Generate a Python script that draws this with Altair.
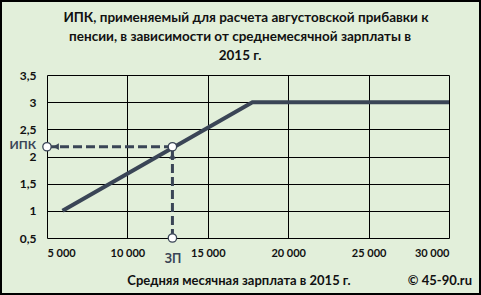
import altair as alt
import pandas as pd

# --- data ---
salary = [5965, 17775, 30000]
ipk = [1.0, 3.0, 3.0]
zp_salary = 12800
zp_ipk = 2.18
x_min, x_max = 5000, 30000
y_min, y_max = 0.5, 3.5
x_ticks = [5000, 10000, 15000, 20000, 25000, 30000]
y_ticks = [0.5, 1.0, 1.5, 2.0, 2.5, 3.0, 3.5]
title_lines = ["ИПК, применяемый для расчета августовской прибавки к",
               "пенсии, в зависимости от среднемесячной зарплаты в",
               "2015  г."]
x_title = "Средняя месячная зарплата в 2015 г."
copyright_text = "© 45-90.ru"

LINE = "#3A4556"
BG = "#E2EFDA"
FONT = "Lato"

W, H = 402, 163
PL, PT, PR, PB = 47, 75, 32, 57

xs = alt.Scale(domain=[x_min, x_max], nice=False, zero=False)
ys = alt.Scale(domain=[y_min, y_max], nice=False, zero=False)

xaxis = alt.Axis(values=x_ticks, grid=True, domain=False, ticks=False, title=None,
                 format=",d", labelOverlap=False,
                 labelPadding=9, labelFontSize=11, labelFontWeight="bold",
                 labelColor="#111", labelFont=FONT, gridColor="black", gridWidth=1)
yaxis = alt.Axis(values=y_ticks, grid=True, domain=False, ticks=False, title=None,
                 format="~g", labelOverlap=False,
                 labelPadding=11, labelFontSize=12, labelFontWeight="bold",
                 labelColor="#111", labelFont=FONT, gridColor="black", gridWidth=1)

def enc(ch):
    return ch.encode(x=alt.X("salary:Q", scale=xs, axis=xaxis),
                     y=alt.Y("ipk:Q", scale=ys, axis=yaxis))

main_df = pd.DataFrame({"salary": salary, "ipk": ipk})
main = enc(alt.Chart(main_df).mark_line(color=LINE, strokeWidth=4))

vert_df = pd.DataFrame({"salary": [zp_salary, zp_salary], "ipk": [y_min, zp_ipk]})
vert = enc(alt.Chart(vert_df).mark_line(color=LINE, strokeWidth=3, strokeDash=[9, 4]))

hor_df = pd.DataFrame({"salary": [x_min, zp_salary], "ipk": [zp_ipk, zp_ipk]})
hor = enc(alt.Chart(hor_df).mark_line(color=LINE, strokeWidth=3, strokeDash=[9, 4]))

arr_up = enc(alt.Chart(pd.DataFrame({"salary": [zp_salary], "ipk": [zp_ipk]})).mark_point(
    shape="triangle-up", filled=True, color=LINE, opacity=1, size=45, yOffset=9))

arr_left = enc(alt.Chart(pd.DataFrame({"salary": [x_min], "ipk": [zp_ipk]})).mark_point(
    shape="triangle-left", filled=True, color=LINE, opacity=1, size=45, xOffset=9))

circ_df = pd.DataFrame({"salary": [x_min, zp_salary, zp_salary],
                        "ipk": [zp_ipk, zp_ipk, y_min]})
circles = enc(alt.Chart(circ_df).mark_point(
    shape="circle", filled=True, fill="white", stroke=LINE, strokeWidth=1.3,
    opacity=1, size=70))

def label(txt, x, y, size=12, color="#111", align="center", weight="bold"):
    return alt.Chart(pd.DataFrame({"t": [txt]})).mark_text(
        font=FONT, fontSize=size, fontWeight=weight, color=color, align=align,
        baseline="alphabetic").encode(
        text="t:N", x=alt.value(x), y=alt.value(y))

texts = [
    label(title_lines[0], 246 - PL, 22 - PT, size=13.5),
    label(title_lines[1], 240 - PL, 41 - PT, size=13.5),
    label(title_lines[2], 240 - PL, 60 - PT, size=13.5),
    label(x_title, 239 - PL, 285 - PT, size=13),
    label(copyright_text, 472 - PL, 285 - PT, size=13, align="right"),
    label("ИПК", 36 - PL, 149 - PT, size=12, color=LINE, align="right"),
    label("ЗП", 173 - PL, 263 - PT, size=12.5, color=LINE),
]

border = alt.Chart(pd.DataFrame({"a": [0]})).mark_rect(
    fill=None, stroke="black", strokeWidth=2).encode(
    x=alt.value(1 - PL), x2=alt.value(480 - PL),
    y=alt.value(1 - PT), y2=alt.value(294 - PT))

chart = alt.layer(main, vert, hor, arr_up, arr_left, circles, *texts, border).properties(
    width=W, height=H,
    autosize=alt.AutoSizeParams(type="none"),
    padding={"left": PL, "top": PT, "right": PR, "bottom": PB},
    background=BG,
).configure(
    locale={"number": {"decimal": ",", "thousands": "\u00a0", "grouping": [3],
                       "currency": ["", " ₽"]}}
).configure_axis(labelOverlap=False).configure_view(stroke=None)

chart.save("out.html", embed_options={"renderer": "svg", "actions": False})
